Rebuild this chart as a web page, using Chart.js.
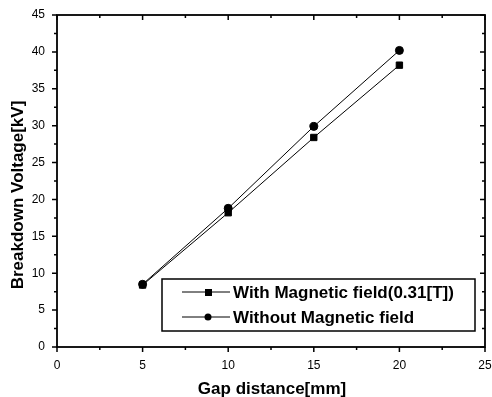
<!DOCTYPE html>
<html>
<head>
<meta charset="utf-8">
<script src="https://cdn.jsdelivr.net/npm/chart.js@4.4.0/dist/chart.umd.min.js"></script>
<style>
  html, body { margin: 0; padding: 0; background: #fff; }
  #wrap { width: 492px; height: 397px; position: relative; }
</style>
</head>
<body>
<div id="wrap"><canvas id="myChart" width="492" height="397"></canvas></div>
<script>
// data
const gapDistance = [5, 10, 15, 20]
const withField = [8.4, 18.2, 28.4, 38.2]
const withoutField = [8.5, 18.8, 29.9, 40.2]
const xTicks = [0, 5, 10, 15, 20, 25]
const yTicks = [0, 5, 10, 15, 20, 25, 30, 35, 40, 45]
const seriesNames = ['With Magnetic field(0.31[T])', 'Without Magnetic field']

const font = 'Liberation Sans, Arial, sans-serif'

// minor + mirrored ticks, axis titles, legend box
const framePlugin = {
  id: 'frame',
  afterDraw(chart) {
    const c = chart.ctx
    const a = chart.chartArea
    const xs = chart.scales.x
    const ys = chart.scales.y
    c.save()
    c.strokeStyle = '#000'
    c.lineWidth = 1.8
    c.strokeRect(a.left, a.top, a.right - a.left, a.bottom - a.top)

    c.lineWidth = 1.5
    for (let v = 0; v <= 25; v += 2.5) {
      const px = xs.getPixelForValue(v)
      const major = v % 5 === 0
      const len = major ? 5 : 3
      c.beginPath()
      c.moveTo(px, a.bottom); c.lineTo(px, a.bottom + len)
      c.moveTo(px, a.top); c.lineTo(px, a.top + len)
      c.stroke()
    }
    for (let v = 0; v <= 45; v += 2.5) {
      const py = ys.getPixelForValue(v)
      const major = v % 5 === 0
      const len = major ? 5 : 3
      c.beginPath()
      c.moveTo(a.left, py); c.lineTo(a.left - len, py)
      c.moveTo(a.right, py); c.lineTo(a.right - len, py)
      c.stroke()
    }

    // axis titles
    c.fillStyle = '#000'
    c.font = 'bold 17px ' + font
    c.textAlign = 'center'
    c.textBaseline = 'alphabetic'
    c.fillText('Gap distance[mm]', 272, 394)
    c.save()
    c.translate(23, 195)
    c.rotate(-Math.PI / 2)
    c.fillText('Breakdown Voltage[kV]', 0, 0)
    c.restore()

    // legend
    c.fillStyle = '#fff'
    c.fillRect(162, 279, 313, 52)
    c.lineWidth = 1.5
    c.strokeRect(162, 279, 313, 52)
    c.lineWidth = 1
    c.font = 'bold 17px ' + font
    c.textAlign = 'left'
    c.textBaseline = 'middle'
    const rows = [292, 317]
    chart.data.datasets.forEach((ds, i) => {
      const y = rows[i]
      c.beginPath()
      c.moveTo(182, y); c.lineTo(230, y)
      c.stroke()
      c.fillStyle = '#000'
      if (ds.pointStyle === 'rect') {
        c.fillRect(205, y - 3, 7, 7)
      } else {
        c.beginPath(); c.arc(208, y, 3.5, 0, Math.PI * 2); c.fill()
      }
      c.fillText(ds.label, 233, y + 1)
    })
    c.restore()
  }
}

new Chart(document.getElementById('myChart'), {
  type: 'line',
  data: {
    datasets: [{
      label: seriesNames[0],
      data: gapDistance.map((x, i) => ({ x: x, y: withField[i] })),
      borderColor: '#000',
      backgroundColor: '#000',
      borderWidth: 1,
      pointStyle: 'rect',
      pointRadius: 4.5,
      tension: 0
    }, {
      label: seriesNames[1],
      data: gapDistance.map((x, i) => ({ x: x, y: withoutField[i] })),
      borderColor: '#000',
      backgroundColor: '#000',
      borderWidth: 1,
      pointStyle: 'circle',
      pointRadius: 4,
      tension: 0
    }]
  },
  options: {
    responsive: false,
    animation: false,
    layout: { padding: { top: 15, right: 7, left: 0, bottom: 0 } },
    plugins: { legend: { display: false }, tooltip: { enabled: false } },
    scales: {
      x: {
        type: 'linear',
        min: 0, max: 25,
        afterBuildTicks: s => { s.ticks = xTicks.map(v => ({ value: v })) },
        afterFit: s => { s.height = 50; s.paddingLeft = 0; s.paddingRight = 0 },
        grid: { display: false },
        border: { display: false },
        ticks: { color: '#000', font: { family: font, size: 12 }, padding: 3, maxRotation: 0 }
      },
      y: {
        min: 0, max: 45,
        afterBuildTicks: s => { s.ticks = yTicks.map(v => ({ value: v })) },
        afterFit: s => { s.width = 57; s.paddingTop = 0; s.paddingBottom = 0 },
        grid: { display: false },
        border: { display: false },
        ticks: { color: '#000', font: { family: font, size: 12 }, padding: 4 }
      }
    }
  },
  plugins: [framePlugin]
})
</script>
</body>
</html>
